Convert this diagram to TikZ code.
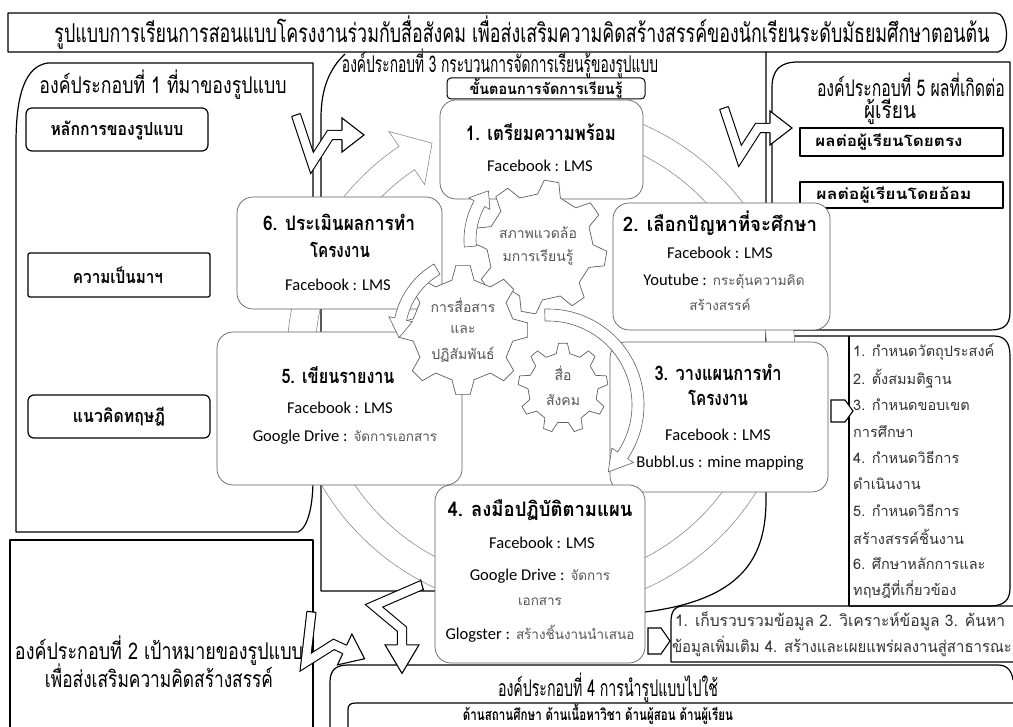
\documentclass[tikz,border=0pt]{standalone}
\usepackage{fontspec}
\usepackage{graphicx}
\setmainfont[Script=Thai]{Loma}
\newfontfamily\latfont{Carlito}
\usetikzlibrary{calc}
\definecolor{boxgray}{RGB}{95,95,95}
\definecolor{ringgray}{RGB}{140,140,140}
\definecolor{softtext}{RGB}{85,85,85}

% text squeezed to a given width
\newcommand{\wfit}[2]{\resizebox{#1pt}{\height}{#2}}
% latin part of a mixed line
\newcommand{\latpart}[1]{{\latfont\fontsize{16.5}{19}\selectfont\color{black}#1}}

% gear: centre x, centre y, teeth, inner r, outer r, turn
\newcommand{\gearat}[6]{%
  \draw[gearline, shift={(#1,#2)}] ({#6-0.28*360/#3}:#4)
    \foreach \k in {1,...,#3}{
      -- ({#6+(\k-1)*360/#3-0.28*360/#3}:#4)
      -- ({#6+(\k-1)*360/#3-0.14*360/#3}:#5)
      -- ({#6+(\k-1)*360/#3+0.14*360/#3}:#5)
      -- ({#6+(\k-1)*360/#3+0.28*360/#3}:#4)
    } -- cycle;}

% block arrow bent on a circle: centre x, centre y, r, start, head base, tip, half shaft, half head
\newcommand{\arcarrow}[9][curvearrow]{%
  \draw[#1, shift={(#2,#3)}] (#5:{#4+#8})
    arc[start angle=#5, end angle=#6, radius={#4+#8}]
    -- (#6:{#4+#9}) -- (#7:#4) -- (#6:{#4-#9}) -- (#6:{#4-#8})
    arc[start angle=#6, end angle=#5, radius={#4-#8}] -- cycle;}

\tikzset{
  every node/.style={inner sep=0pt},
  sketch/.style={draw=black, line width=1.2pt, line join=round},
  stepbox/.style={draw=boxgray, fill=white, line width=0.7pt, rounded corners=16pt},
  ringarrow/.style={draw=ringgray, fill=white, line width=0.6pt},
  curvearrow/.style={draw=boxgray, fill=white, line width=0.6pt, line join=miter},
  gearline/.style={draw=boxgray, fill=white, line width=0.7pt, line join=round},
  headfill/.style={draw=black, fill=white, line width=1.1pt, line join=miter},
  bolt/.pic={
    \coordinate (b0) at (0,-20);
    \coordinate (b1) at (16,28);
    \coordinate (b2) at (34,0);
    \coordinate (b3) at (46,0);
    \draw[line width=1.1pt, double=white, double distance=8pt, line join=miter] (b0) -- (b1) -- (b2) -- (b3);
    \draw[headfill] (46,-4.55) -- (46,-17) -- (68,0) -- (46,17) -- (46,4.55);
    \draw[line width=1.1pt] ($(b0)!4.55pt!90:(b1)$) -- ($(b0)!4.55pt!-90:(b1)$);
  },
  bigtitle/.style={font=\fontsize{26}{28}\selectfont},
  comptitle/.style={font=\fontsize{23}{25}\selectfont},
  boxlabel/.style={font=\bfseries\fontsize{18}{20}\selectfont},
  smalllabel/.style={font=\bfseries\fontsize{15}{17}\selectfont},
  steptitle/.style={font=\bfseries\fontsize{20}{22}\selectfont},
  fbtext/.style={font=\latfont\fontsize{16.5}{19}\selectfont},
  thaismall/.style={font=\fontsize{13.5}{15}\selectfont, text=softtext},
  geartext/.style={font=\fontsize{14}{16}\selectfont, text=softtext},
  listtext/.style={font=\fontsize{14.5}{16}\selectfont, text=black!80, anchor=west},
}

\begin{document}
\begin{tikzpicture}[x=1pt, y=-1pt]
\useasboundingbox (0,0) rectangle (1013,727);
\fill[white] (0,0) rectangle (1013,727);

% title bar
\draw[sketch] (8,13) -- (996,13) .. controls (1008,13) and (1011,50) .. (998,52) -- (8,52) -- cycle;
\node[bigtitle] (title) at (522,33) {\wfit{935}{รูปแบบการเรียนการสอนแบบโครงงานร่วมกับสื่อสังคม เพื่อส่งเสริมความคิดสร้างสรรค์ของนักเรียนระดับมัธยมศึกษาตอนต้น}};

% component 1
\draw[sketch] (16,532) -- (16,143) .. controls (16,95) and (25,66) .. (48,63) -- (313,63) -- (313,480) .. controls (313,505) and (308,528) .. (298,532) -- cycle;
\node[comptitle] (c1) at (163,85) {\wfit{247}{องค์ประกอบที่ 1 ที่มาของรูปแบบ}};
\draw[sketch, rounded corners=6pt] (26,108) rectangle (208,151);
\node[boxlabel] (c1a) at (117,130) {\wfit{133}{หลักการของรูปแบบ}};
\draw[sketch, rounded corners=2pt] (28,253) rectangle (210,297);
\node[boxlabel] (c1b) at (118,275) {\wfit{90}{ความเป็นมาฯ}};
\draw[sketch, rounded corners=6pt] (28,395) rectangle (210,438);
\node[boxlabel] (c1c) at (119,417) {\wfit{92}{แนวคิดทฤษฎี}};

% component 2
\draw[sketch] (10,735) -- (10,540) -- (313,540) -- (313,735);
\node[comptitle] (c2a) at (159,651) {\wfit{288}{องค์ประกอบที่ 2 เป้าหมายของรูปแบบ}};
\node[comptitle] (c2b) at (159,676) {\wfit{228}{เพื่อส่งเสริมความคิดสร้างสรรค์}};

% component 3 frame
\draw[sketch] (345,54) .. controls (330,68) and (321,88) .. (321,118) -- (321,591) -- (435,591);
\draw[sketch] (766,52) -- (766,500) .. controls (766,560) and (740,600) .. (645,612);
\node[comptitle] (c3) at (500,64) {\wfit{316}{องค์ประกอบที่ 3 กระบวนการจัดการเรียนรู้ของรูปแบบ}};
\draw[sketch, line width=1pt, rounded corners=4pt] (447,78) rectangle (645,99);
\node[smalllabel] (stages) at (546,88.5) {\wfit{153}{ขั้นตอนการจัดการเรียนรู้}};

% component 5
\draw[sketch] (772,330) -- (772,88) .. controls (772,70) and (780,62) .. (798,62) -- (1010,62) -- (1010,312) .. controls (1010,325) and (1004,330) .. (990,330) -- cycle;
\node[comptitle] (c5a) at (911,85) {\wfit{188}{องค์ประกอบที่ 5 ผลที่เกิดต่อ}};
\node[comptitle] (c5b) at (890,112) {\wfit{52}{ผู้เรียน}};
\draw[sketch] (800,128) rectangle (1003,156);
\node[smalllabel] (c5c) at (889,142) {\wfit{147}{ผลต่อผู้เรียนโดยตรง}};
\draw[sketch] (800,182) rectangle (1003,208);
\node[smalllabel] (c5d) at (894,195) {\wfit{155}{ผลต่อผู้เรียนโดยอ้อม}};

% planning list
\draw[sketch] (766,336) -- (994,336) .. controls (1006,336) and (1010,344) .. (1010,356) -- (1010,588) .. controls (1010,600) and (1004,606) .. (990,606) -- (849,606);
\draw[sketch] (849,606) -- (849,336);
\foreach \txt [count=\i] in {1. กำหนดวัตถุประสงค์, 2. ตั้งสมมติฐาน, 3. กำหนดขอบเขต, การศึกษา, 4. กำหนดวิธีการ, ดำเนินงาน, 5. กำหนดวิธีการ, สร้างสรรค์ชิ้นงาน, 6. ศึกษาหลักการและ, ทฤษฎีที่เกี่ยวข้อง}
  \node[listtext] (plan\i) at (853,{325.5+26.4*\i}) {\txt};

% doing list
\draw[sketch] (1013,606) -- (684,606) .. controls (674,606) and (671,612) .. (671,622) -- (671,662) -- (1013,662);
\node[listtext, anchor=center, font=\fontsize{16}{18}\selectfont] (do1) at (840,621) {\wfit{330}{1. เก็บรวบรวมข้อมูล 2. วิเคราะห์ข้อมูล 3. ค้นหา}};
\node[listtext, anchor=center, font=\fontsize{16}{18}\selectfont] (do2) at (842,646) {\wfit{340}{ข้อมูลเพิ่มเติม 4. สร้างและเผยแพร่ผลงานสู่สาธารณะ}};

% component 4
\draw[sketch] (330,735) -- (330,682) .. controls (330,670) and (336,665) .. (348,665) -- (998,665) .. controls (1008,665) and (1012,672) .. (1013,680);
\node[comptitle] (c4) at (608,688) {\wfit{220}{องค์ประกอบที่ 4 การนำรูปแบบไปใช้}};
\draw[sketch] (348,735) -- (348,710) .. controls (348,705) and (350,703) .. (356,703) -- (1013,703);
\node[boxlabel, font=\bfseries\fontsize{15.5}{17}\selectfont] (c4a) at (598,714) {\wfit{270}{ด้านสถานศึกษา ด้านเนื้อหาวิชา ด้านผู้สอน ด้านผู้เรียน}};

% cycle ring
\arcarrow[ringarrow]{541}{357}{240}{-110}{236}{243}{14}{32}

% steps
\node[stepbox, minimum width=203pt, minimum height=99pt] (step1) at (541.5,149.5) {};
\node[steptitle] (s1a) at (541,132) {\wfit{150}{1. เตรียมความพร้อม}};
\node[fbtext] (s1b) at (540,166) {Facebook : LMS};

\node[stepbox, minimum width=217pt, minimum height=127pt] (step2) at (721.5,266.5) {};
\node[steptitle] (s2a) at (720,223) {\wfit{194}{2. เลือกปัญหาที่จะศึกษา}};
\node[fbtext] (s2b) at (720,253) {Facebook : LMS};
\node[thaismall] (s2c) at (724,282) {\latpart{Youtube :} กระตุ้นความคิด};
\node[thaismall] (s2d) at (720,305) {สร้างสรรค์};

\node[stepbox, minimum width=218pt, minimum height=150pt] (step3) at (719,417) {};
\node[steptitle] (s3a) at (718,372) {\wfit{127}{3. วางแผนการทำ}};
\node[steptitle] (s3b) at (718,398) {\wfit{60}{โครงงาน}};
\node[fbtext] (s3c) at (718,435) {Facebook : LMS};
\node[fbtext] (s3d) at (720,463) {Bubbl.us : mine mapping};

\node[stepbox, minimum width=210pt, minimum height=178pt] (step4) at (540,574) {};
\node[steptitle] (s4a) at (540,510) {\wfit{185}{4. ลงมือปฏิบัติตามแผน}};
\node[fbtext] (s4b) at (542,543) {Facebook : LMS};
\node[thaismall] (s4c) at (540,576) {\latpart{Google Drive :} จัดการ};
\node[thaismall] (s4d) at (540,602) {เอกสาร};
\node[thaismall] (s4e) at (540,634) {\latpart{Glogster :} สร้างชิ้นงานนำเสนอ};

\node[stepbox, minimum width=245pt, minimum height=153pt] (step5) at (339.5,408.5) {};
\node[steptitle] (s5a) at (338,375) {\wfit{113}{5. เขียนรายงาน}};
\node[fbtext] (s5b) at (340,408) {Facebook : LMS};
\node[thaismall] (s5c) at (345,437) {\latpart{Google Drive :} จัดการเอกสาร};

\node[stepbox, minimum width=205pt, minimum height=112pt] (step6) at (339.5,253) {};
\node[steptitle] (s6a) at (339,222) {\wfit{152}{6. ประเมินผลการทำ}};
\node[steptitle] (s6b) at (340,250) {\wfit{60}{โครงงาน}};
\node[fbtext] (s6c) at (338,285) {Facebook : LMS};

% gears
\gearat{540}{247}{8}{53}{67}{10}
\node[geartext] (g1a) at (538,233) {สภาพแวดล้อ};
\node[geartext] (g1b) at (538,257) {มการเรียนรู้};
\gearat{463}{330}{8}{51}{65}{0}
\node[geartext] (g2a) at (463,305) {การสื่อสาร};
\node[geartext] (g2b) at (463,330) {และ};
\node[geartext] (g2c) at (463,355) {ปฏิสัมพันธ์};
\gearat{563}{388}{9}{35}{45}{-90}
\node[geartext] (g3a) at (563,373) {สื่อ};
\node[geartext] (g3b) at (563,400) {สังคม};

% bent arrows between the gears and the steps
\arcarrow{545}{240}{75}{175}{209}{221}{6}{12}
\arcarrow{475}{335}{76}{240}{192}{178}{6}{12}
\arcarrow{548}{405}{90}{268}{394}{408}{6}{13}

% zigzag arrows between the components
\pic at (296,135) {bolt};
\pic at (724,128) {bolt};
\pic[rotate=-25] at (303,630) {bolt};
\pic[rotate=-90, xscale=1.3] at (402,585) {bolt};

% pointers to the lists
\draw[headfill] (831,400) -- (845,400) -- (853,411) -- (845,422) -- (831,422) -- cycle;
\draw[headfill] (648,628) -- (661,628) -- (670,641) -- (661,654) -- (648,654) -- cycle;

\end{tikzpicture}
\end{document}
